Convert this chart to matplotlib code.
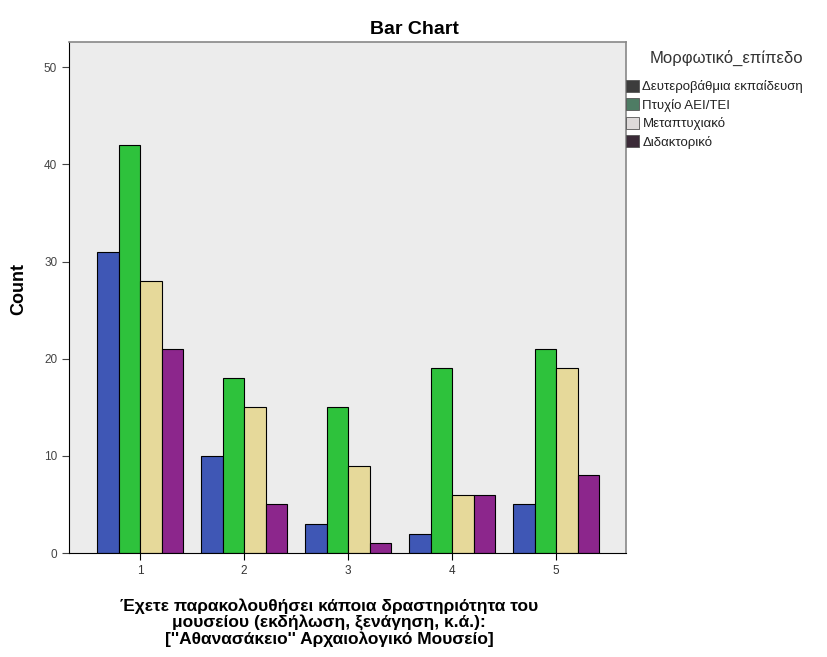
import matplotlib
matplotlib.use("Agg")
import matplotlib.pyplot as plt
import numpy as np
from matplotlib.patches import Patch

plt.rcParams['font.family'] = ['Liberation Sans', 'DejaVu Sans']

categories = ["1", "2", "3", "4", "5"]
series_names = ["Δευτεροβάθμια εκπαίδευση", "Πτυχίο ΑΕΙ/ΤΕΙ", "Μεταπτυχιακό", "Διδακτορικό"]
counts = [
    [31, 10, 3, 2, 5],     # Δευτεροβάθμια
    [42, 18, 15, 19, 21],  # Πτυχίο
    [28, 15, 9, 6, 19],    # Μεταπτυχιακό
    [21, 5, 1, 6, 8],      # Διδακτορικό
]
bar_colors = ["#3f57b5", "#2ec23c", "#e6d99a", "#8c268c"]
legend_colors = ["#3c3c3c", "#4e7c64", "#dedada", "#3b2b38"]

fig = plt.figure(figsize=(8.28, 6.57), dpi=100)
ax = fig.add_axes([69/828, 104/657, (626-69)/828, (553-42)/657])
ax.set_facecolor("#ececec")

x = np.arange(1, len(categories) + 1)
w = 0.207
for i, (vals, col) in enumerate(zip(counts, bar_colors)):
    ax.bar(x + (i - 1.5) * w, vals, width=w, color=col, edgecolor="black", linewidth=0.8, zorder=2)

ax.set_xlim(0.317, 5.67)
ax.set_ylim(0, 52.6)
ax.set_yticks([0, 10, 20, 30, 40, 50])
ax.set_xticks(x)
ax.set_xticklabels(categories)
ax.tick_params(axis="both", labelsize=8.5, colors="#444444", length=5, width=0.8)
ax.tick_params(axis="x", colors="black", labelcolor="#333333")
for s in ["left", "bottom"]:
    ax.spines[s].set_color("black")
for s in ["top", "right"]:
    ax.spines[s].set_color("#888888")
    ax.spines[s].set_linewidth(1.2)

ax.set_ylabel("Count", fontsize=13, fontweight="bold")
ax.yaxis.set_label_coords((27 - 69) / 557, (553 - 289) / 511)
ax.set_xlabel("Έχετε παρακολουθήσει κάποια δραστηριότητα του\nμουσείου (εκδήλωση, ξενάγηση, κ.ά.):\n[''Αθανασάκειο'' Αρχαιολογικό Μουσείο]",
              fontsize=12.5, fontweight="bold", linespacing=1.08, va="top")
ax.xaxis.set_label_coords((329 - 69) / 557, -(598 - 553) / 511)

fig.text(0.5, 1 - 30/657, "Bar Chart", ha="center", va="center", fontsize=14, fontweight="bold")

fig.text(650/828, 1 - 58/657, "Μορφωτικό_επίπεδο", ha="left", va="center", fontsize=12, color="#333333")
handles = [Patch(facecolor=c, edgecolor="#555555", linewidth=0.6) for c in legend_colors]
leg = fig.legend(handles, series_names, loc="upper left",
                 bbox_to_anchor=(626/828, 1 - 80/657), frameon=False, fontsize=9.5,
                 handlelength=1.0, handleheight=1.0,
                 handletextpad=0.25, labelspacing=0.38, borderaxespad=0, borderpad=0)
for t in leg.get_texts():
    t.set_color("#222222")

fig.savefig("out.png", dpi=100)
